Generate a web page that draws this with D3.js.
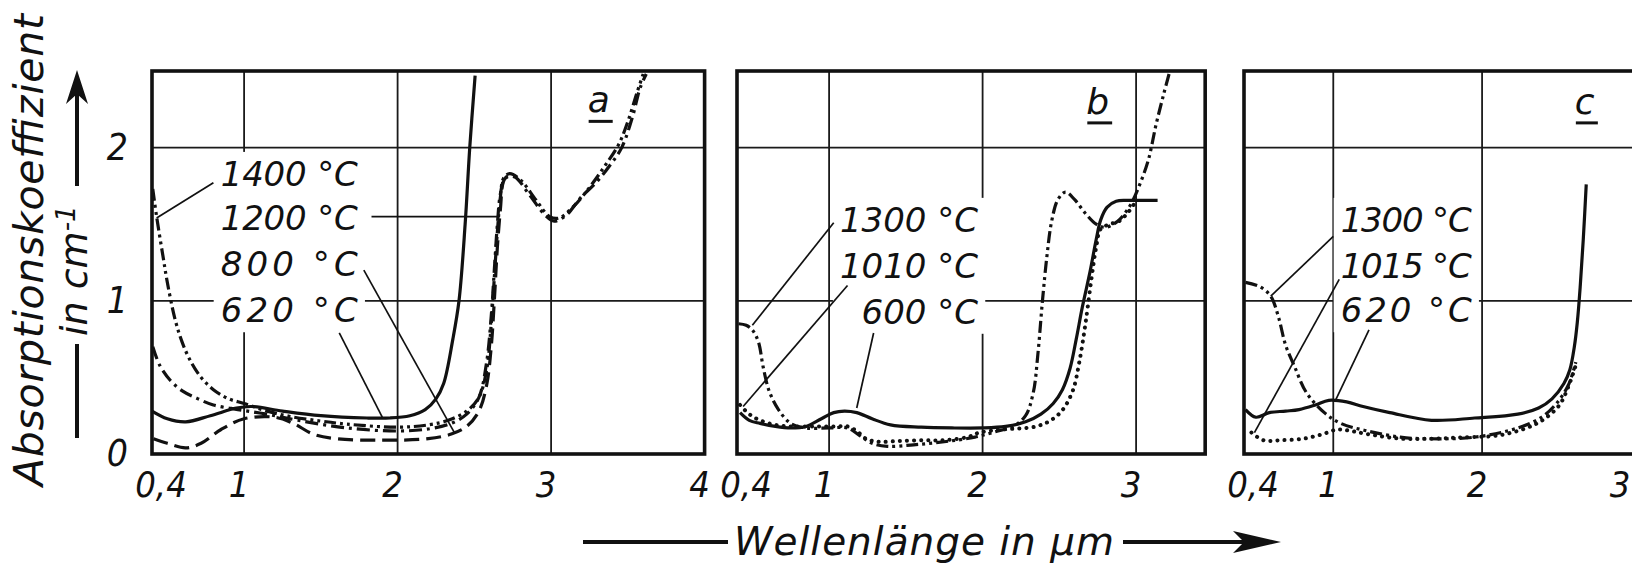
<!DOCTYPE html>
<html>
<head>
<meta charset="utf-8">
<script src="https://cdn.jsdelivr.net/npm/d3@7"></script>
<style>
  html, body { margin: 0; padding: 0; background: #fff; }
  svg { display: block; }
  text { font-family: "DejaVu Sans", sans-serif; font-style: italic; fill: #111; }
  text.tick { font-family: "DejaVu Sans Condensed", "DejaVu Sans", sans-serif; }
</style>
</head>
<body>
<div id="chart"></div>
<script>
// wavelength (µm) / absorption coefficient (cm^-1)

const yTicks = [0, 1, 2];
const yTickLabels = ['0', '1', '2'];

const xTicksA = [0.4, 1, 2, 3, 4];
const xTicksB = [0.4, 1, 2, 3];
const xTicksC = [0.4, 1, 2, 3];
const xTickLabelsA = ['0,4', '1', '2', '3', '4'];
const xTickLabelsB = ['0,4', '1', '2', '3'];
const xTickLabelsC = ['0,4', '1', '2', '3'];

// panel a
const a1400 = [[0.405,1.73],[0.43,1.55],[0.47,1.30],[0.50,1.12],[0.55,0.88],[0.60,0.72],[0.66,0.59],[0.72,0.50],[0.80,0.42],[0.90,0.36],[1.00,0.33],[1.15,0.28],[1.30,0.245],[1.50,0.215],[1.67,0.195],[2.00,0.175],[2.20,0.19],[2.33,0.22],[2.45,0.28],[2.53,0.37],[2.58,0.55],[2.61,0.85],[2.63,1.15],[2.65,1.45],[2.67,1.68],[2.69,1.80],[2.73,1.83],[2.80,1.79],[2.90,1.66],[2.99,1.55],[3.05,1.54],[3.15,1.62],[3.25,1.74],[3.35,1.88],[3.44,2.02],[3.50,2.17],[3.56,2.36],[3.60,2.48]];
const a1200 = [[0.405,0.70],[0.45,0.58],[0.52,0.48],[0.60,0.41],[0.70,0.36],[0.80,0.32],[0.96,0.29],[1.15,0.26],[1.35,0.22],[1.67,0.17],[2.00,0.15],[2.21,0.165],[2.35,0.20],[2.45,0.26],[2.53,0.37],[2.58,0.60],[2.61,0.90],[2.63,1.20],[2.65,1.50],[2.67,1.70],[2.70,1.80],[2.76,1.81],[2.86,1.69],[2.96,1.56],[3.02,1.52],[3.10,1.56],[3.19,1.67],[3.30,1.78],[3.38,1.88],[3.46,2.00],[3.53,2.20],[3.58,2.39],[3.62,2.48]];
const a800 = [[0.41,0.10],[0.50,0.07],[0.62,0.04],[0.72,0.07],[0.85,0.16],[1.00,0.23],[1.20,0.24],[1.32,0.20],[1.45,0.13],[1.60,0.10],[1.90,0.09],[2.20,0.10],[2.35,0.13],[2.45,0.18],[2.53,0.28],[2.58,0.45],[2.61,0.70],[2.63,1.00],[2.65,1.35],[2.67,1.60],[2.69,1.78],[2.72,1.82]];
const a620 = [[0.40,0.28],[0.50,0.23],[0.62,0.21],[0.78,0.25],[0.95,0.30],[1.05,0.31],[1.25,0.28],[1.50,0.25],[1.80,0.235],[1.95,0.235],[2.08,0.25],[2.18,0.29],[2.25,0.36],[2.30,0.46],[2.36,0.75],[2.40,1.00],[2.44,1.50],[2.47,2.00],[2.505,2.47]];
const labelsA = ['1400 °C', '1200 °C', '800 °C', '620 °C'];

// panel b
const b1300 = [[0.41,0.85],[0.46,0.84],[0.50,0.81],[0.54,0.73],[0.57,0.57],[0.61,0.41],[0.67,0.29],[0.75,0.20],[0.85,0.17],[1.00,0.17],[1.12,0.17],[1.20,0.12],[1.28,0.07],[1.38,0.05],[1.55,0.06],[1.75,0.08],[1.95,0.11],[2.10,0.15],[2.20,0.18],[2.28,0.25],[2.33,0.40],[2.36,0.65],[2.39,1.00],[2.42,1.30],[2.45,1.52],[2.49,1.66],[2.54,1.71],[2.60,1.66],[2.67,1.57],[2.74,1.50],[2.80,1.48],[2.88,1.52],[2.96,1.62],[3.02,1.75],[3.08,1.92],[3.13,2.15],[3.18,2.35],[3.22,2.50]];
const b1010 = [[0.42,0.32],[0.48,0.26],[0.55,0.22],[0.65,0.19],[0.75,0.18],[0.90,0.18],[1.05,0.18],[1.12,0.18],[1.18,0.15],[1.24,0.10],[1.32,0.08],[1.45,0.085],[1.60,0.09],[1.75,0.09],[1.90,0.11],[1.98,0.14],[2.13,0.16],[2.35,0.18],[2.46,0.23],[2.53,0.30],[2.59,0.42],[2.63,0.60],[2.67,0.85],[2.71,1.15],[2.74,1.35],[2.77,1.47],[2.83,1.50],[2.89,1.52],[2.95,1.58],[3.00,1.65]];
const b600 = [[0.42,0.27],[0.48,0.22],[0.55,0.20],[0.65,0.18],[0.75,0.17],[0.85,0.18],[0.95,0.23],[1.03,0.27],[1.10,0.28],[1.18,0.27],[1.28,0.23],[1.40,0.19],[1.60,0.175],[1.80,0.17],[2.00,0.17],[2.15,0.18],[2.28,0.21],[2.38,0.26],[2.46,0.33],[2.52,0.42],[2.57,0.56],[2.61,0.75],[2.65,0.96],[2.70,1.19],[2.74,1.40],[2.77,1.53],[2.81,1.61],[2.87,1.65],[2.95,1.655],[3.05,1.655],[3.14,1.655]];
const labelsB = ['1300 °C', '1010 °C', '600 °C'];

// panel c
const c1300 = [[0.41,1.12],[0.51,1.09],[0.58,1.03],[0.63,0.90],[0.68,0.71],[0.74,0.57],[0.82,0.40],[0.94,0.27],[1.05,0.20],[1.23,0.15],[1.45,0.11],[1.61,0.10],[1.95,0.11],[2.24,0.17],[2.40,0.24],[2.50,0.33],[2.58,0.45],[2.63,0.60]];
const c1015 = [[0.45,0.14],[0.53,0.09],[0.65,0.09],[0.80,0.10],[0.93,0.13],[1.03,0.16],[1.12,0.15],[1.23,0.13],[1.45,0.10],[1.66,0.10],[1.90,0.11],[2.10,0.12],[2.30,0.17],[2.42,0.23],[2.52,0.32],[2.58,0.44],[2.63,0.58]];
const c620 = [[0.41,0.29],[0.48,0.24],[0.57,0.27],[0.68,0.28],[0.77,0.29],[0.88,0.32],[0.97,0.35],[1.09,0.34],[1.20,0.31],[1.38,0.27],[1.66,0.22],[1.95,0.235],[2.24,0.26],[2.38,0.30],[2.47,0.36],[2.55,0.46],[2.59,0.55],[2.62,0.70],[2.64,0.86],[2.66,1.10],[2.68,1.40],[2.70,1.76]];
const labelsC = ['1300 °C', '1015 °C', '620 °C'];

const W = 1632, H = 568;

const dashes = {
  solid: null,
  dashed: '15 7',
  dashdot: '13 5 3 5',
  dashdotdot: '12 4 3 4 3 4',
  dotted: '0.1 7'
};

class Panel {
  constructor(opts){
    this.o = opts;
  }

  draw(svg){
    this.g = svg.append('g').attr('class', 'panel-' + this.o.name);
    this.gridG = this.g.append('g');
    this.maskG = this.g.append('g');
    this.curveG = this.g.append('g');
    this.leaderG = this.g.append('g');
    this.textG = this.g.append('g');
    this.letterG = this.g.append('g');
    this.frameG = this.g.append('g');

    this.createScales();
    this.addGrid();
    this.addLabels();
    this.addMask();
    this.addCurves();
    this.addLeaders();
    this.addLetter();
    this.addFrame();
    this.addTicks(svg);
  }

  createScales(){
    const o = this.o;
    this.x = d3.scaleLinear()
               .domain(o.domain)
               .range([o.left, o.left + (o.domain[1] - o.domain[0]) * o.unit]);
    this.y = d3.scaleLinear()
               .domain([0, 2.5])
               .range([454, 71]);
  }

  addGrid(){
    const x = this.x, y = this.y;
    this.gridG.selectAll('.vgrid')
      .data(this.o.grid)
      .join('line')
      .attr('x1', d => x(d)).attr('x2', d => x(d))
      .attr('y1', y(2.5)).attr('y2', y(0))
      .style('stroke', '#1a1a1a')
      .style('stroke-width', 1.8);

    this.gridG.selectAll('.hgrid')
      .data(yTicks.filter(d => d > 0))
      .join('line')
      .attr('x1', x.range()[0]).attr('x2', x.range()[1])
      .attr('y1', d => y(d)).attr('y2', d => y(d))
      .style('stroke', '#1a1a1a')
      .style('stroke-width', 1.8);
  }

  addLabels(){
    const o = this.o;
    const t = this.textG.selectAll('text')
      .data(o.labels)
      .join('text')
      .attr('x', this.x(o.labelEnd))
      .attr('y', (d, i) => this.y(o.labelRows[i]))
      .attr('text-anchor', 'end')
      .style('font-size', '34px')
      .text(d => d);
    if (o.labelWidth){
      t.attr('textLength', o.labelWidth).attr('lengthAdjust', 'spacing');
    }
  }

  addMask(){
    // white box behind the labels, which breaks the grid lines there
    const b = this.textG.node().getBBox();
    this.maskG.append('rect')
      .attr('x', b.x - 7)
      .attr('y', b.y - 2)
      .attr('width', b.width + 14)
      .attr('height', b.height + 4)
      .attr('fill', '#fff');
  }

  addCurves(){
    const line = d3.line()
      .x(d => this.x(d[0]))
      .y(d => this.y(d[1]))
      .curve(d3.curveCatmullRom.alpha(0.5));

    this.curveG.selectAll('path')
      .data(this.o.series)
      .join('path')
      .attr('d', d => line(d.values))
      .style('fill', 'none')
      .style('stroke', '#111')
      .style('stroke-width', d => d.style === 'dotted' ? 4 : 3.2)
      .style('stroke-linecap', d => d.style === 'dotted' ? 'round' : 'butt')
      .style('stroke-linejoin', 'round')
      .style('stroke-dasharray', d => dashes[d.style]);
  }

  addLeaders(){
    this.leaderG.selectAll('line')
      .data(this.o.leaders)
      .join('line')
      .attr('x1', d => this.x(d[0])).attr('y1', d => this.y(d[1]))
      .attr('x2', d => this.x(d[2])).attr('y2', d => this.y(d[3]))
      .style('stroke', '#111')
      .style('stroke-width', 1.7);
  }

  addLetter(){
    const p = this.o.letterAt;
    const t = this.letterG.append('text')
      .attr('x', this.x(p[0]))
      .attr('y', this.y(p[1]))
      .attr('text-anchor', 'middle')
      .style('font-size', '36px')
      .text(this.o.name);
    const b = t.node().getBBox();
    this.letterG.append('line')
      .attr('x1', b.x + 1).attr('x2', b.x + b.width + 3)
      .attr('y1', this.y(p[1]) + 9).attr('y2', this.y(p[1]) + 9)
      .style('stroke', '#111')
      .style('stroke-width', 3);
  }

  addFrame(){
    const r = this.x.range();
    this.frameG.append('rect')
      .attr('x', r[0]).attr('y', this.y(2.5))
      .attr('width', r[1] - r[0])
      .attr('height', this.y(0) - this.y(2.5))
      .style('fill', 'none')
      .style('stroke', '#111')
      .style('stroke-width', 3.6);
  }

  addTicks(svg){
    const o = this.o;
    svg.append('g').selectAll('text')
      .data(o.ticks)
      .join('text')
      .attr('class', 'tick')
      .attr('x', (d, i) => Math.min(this.x(d) + (i === 0 ? 9 : -5), W - 12))
      .attr('y', 497)
      .attr('text-anchor', 'middle')
      .style('font-size', '36px')
      .text((d, i) => o.tickLabels[i]);

    if (o.showY){
      svg.append('g').selectAll('text')
        .data(yTicks)
        .join('text')
        .attr('class', 'tick')
        .attr('x', 128)
        .attr('y', d => this.y(d))
        .attr('dy', '0.33em')
        .attr('text-anchor', 'end')
        .style('font-size', '37px')
        .text((d, i) => yTickLabels[i]);
    }
  }
}

const svg = d3.select('#chart').append('svg')
  .attr('width', W)
  .attr('height', H);
svg.append('rect').attr('width', W).attr('height', H).attr('fill', '#fff');

const panels = [
  new Panel({
    name: 'a', domain: [0.4, 4], left: 152, unit: 153.5, showY: true,
    grid: [1, 2, 3], ticks: xTicksA, tickLabels: xTickLabelsA,
    series: [
      {values: a1400, style: 'dashdotdot'},
      {values: a1200, style: 'dashdot'},
      {values: a800, style: 'dashed'},
      {values: a620, style: 'solid'}
    ],
    labels: labelsA, labelRows: [1.75, 1.46, 1.16, 0.86], labelEnd: 1.74, labelWidth: 137,
    leaders: [[0.80,1.77,0.43,1.54],[1.83,1.55,2.66,1.55],[1.78,1.20,2.37,0.14],[1.62,0.79,1.90,0.24]],
    letterAt: [3.31, 2.23]
  }),
  new Panel({
    name: 'b', domain: [0.4, 3.45], left: 737, unit: 153.5,
    grid: [1, 2, 3], ticks: xTicksB, tickLabels: xTickLabelsB,
    series: [
      {values: b1300, style: 'dashdotdot'},
      {values: b1010, style: 'dotted'},
      {values: b600, style: 'solid'}
    ],
    labels: labelsB, labelRows: [1.45, 1.15, 0.85], labelEnd: 1.97,
    leaders: [[1.03,1.51,0.50,0.84],[1.12,1.10,0.44,0.31],[1.29,0.79,1.18,0.30]],
    letterAt: [2.75, 2.22]
  }),
  new Panel({
    name: 'c', domain: [0.4, 3.1], left: 1244, unit: 148.8,
    grid: [1, 2], ticks: xTicksC, tickLabels: xTickLabelsC,
    series: [
      {values: c1300, style: 'dashdotdot'},
      {values: c1015, style: 'dotted'},
      {values: c620, style: 'solid'}
    ],
    labels: labelsC, labelRows: [1.45, 1.15, 0.86], labelEnd: 1.93, labelWidth: 131,
    leaders: [[1.00,1.42,0.58,1.03],[1.04,1.14,0.47,0.14],[1.24,0.81,1.01,0.34]],
    letterAt: [2.69, 2.22]
  })
];
panels.forEach(p => p.draw(svg));

// y axis title
svg.append('text')
   .attr('transform', 'translate(43,250) rotate(-90)')
   .attr('text-anchor', 'middle')
   .attr('textLength', 472)
   .attr('lengthAdjust', 'spacing')
   .style('font-size', '41px')
   .text('Absorptionskoeffizient');

const unitT = svg.append('text')
   .attr('transform', 'translate(87,336) rotate(-90)')
   .style('font-size', '38px');
unitT.append('tspan').text('in cm');
unitT.append('tspan')
     .attr('dy', '-0.45em')
     .style('font-size', '26px')
     .text('-1');

const arrowStyle = sel => sel.style('stroke', '#111').style('stroke-width', 4);
svg.append('line').attr('x1', 77).attr('x2', 77).attr('y1', 438).attr('y2', 344).call(arrowStyle);
svg.append('line').attr('x1', 77).attr('x2', 77).attr('y1', 186).attr('y2', 92).call(arrowStyle);
svg.append('path').attr('d', 'M77,70 L88,104 L77,94 L66,104 Z').attr('fill', '#111');

// x axis title
svg.append('text')
   .attr('x', 734)
   .attr('y', 555)
   .attr('textLength', 380)
   .attr('lengthAdjust', 'spacing')
   .style('font-size', '39px')
   .text('Wellenlänge in µm');
svg.append('line').attr('x1', 583).attr('x2', 728).attr('y1', 542).attr('y2', 542).call(arrowStyle);
svg.append('line').attr('x1', 1123).attr('x2', 1250).attr('y1', 542).attr('y2', 542).call(arrowStyle);
svg.append('path').attr('d', 'M1281,542 L1233,531 L1244,542 L1233,553 Z').attr('fill', '#111');
</script>
</body>
</html>
